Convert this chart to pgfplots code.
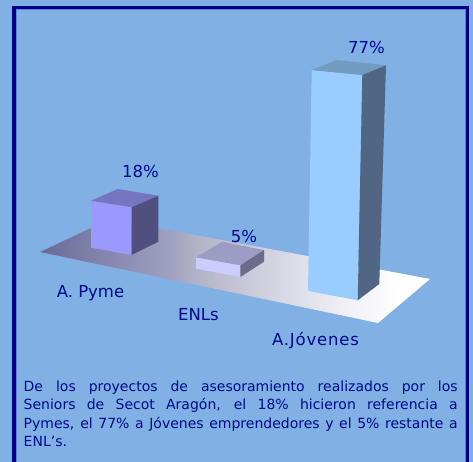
\documentclass[border=0pt]{standalone}
\usepackage{pgfplots}
\pgfplotsset{compat=1.18}
\usepackage{fontspec}
\setmainfont{DejaVu Sans}
\definecolor{bg}{HTML}{80B0E4}
\definecolor{navy}{HTML}{00008B}
\definecolor{txt}{HTML}{000A8A}
\pgfdeclarehorizontalshading{floorS}{100bp}{
  rgb(0bp)=(0.416,0.416,0.604);
  rgb(25bp)=(0.416,0.416,0.604);
  rgb(41.5bp)=(0.627,0.627,0.753);
  rgb(45.5bp)=(0.706,0.706,0.784);
  rgb(56bp)=(0.847,0.847,0.894);
  rgb(63.5bp)=(0.933,0.933,0.957);
  rgb(71bp)=(1,1,1);
  rgb(100bp)=(1,1,1)}
\begin{document}
\begin{tikzpicture}[x=1pt,y=1pt]
\begin{axis}[
  scale only axis, width=473pt, height=462pt,
  xmin=0, xmax=473, ymin=0, ymax=462, y dir=reverse,
  axis lines=none, axis background/.style={fill=bg},
  clip=true
]
% frame
\addplot[draw=navy, line width=3.2pt, forget plot] coordinates {(14,7.5) (467.5,7.5) (467.5,480) (14,480)} -- cycle;
\addplot[draw=bg!75!navy, line width=0.8pt, forget plot] coordinates {(16,9.6) (465.4,9.6) (465.4,480) (16,480)} -- cycle;
% floor
\addplot[draw=none, shading=floorS, forget plot]
  coordinates {(40,252) (110,219) (430,279) (378,323)} -- cycle;
% A. Pyme 18%
\addplot[draw=none, fill={rgb,255:red,153;green,153;blue,255}] coordinates {(91,200.7) (131.7,207.3) (131.7,255) (91,247.7)} -- cycle;
\addplot[draw=none, fill={rgb,255:red,118;green,118;blue,192}] coordinates {(91,200.7) (117.7,189) (158.3,195.7) (131.7,207.3)} -- cycle;
\addplot[draw=none, fill={rgb,255:red,79;green,79;blue,128}] coordinates {(131.7,207.3) (158.3,195.7) (158.3,241.7) (131.7,255)} -- cycle;
% ENLs 5%
\addplot[draw=none, fill={rgb,255:red,204;green,204;blue,255}] coordinates {(196,257.3) (240.3,265.3) (240.3,277) (196,268.7)} -- cycle;
\addplot[draw=none, fill={rgb,255:red,156;green,156;blue,196}] coordinates {(196,257.3) (222,241.7) (264,250) (240.3,265.3)} -- cycle;
\addplot[draw=none, fill={rgb,255:red,108;green,108;blue,138}] coordinates {(240.3,265.3) (264,250) (264,261.7) (240.3,277)} -- cycle;
% A.Jovenes 77%
\addplot[draw=none, fill={rgb,255:red,153;green,204;blue,255}] coordinates {(311.7,70) (362.3,75) (357.7,300.3) (308,291)} -- cycle;
\addplot[draw=none, fill={rgb,255:red,114;green,156;blue,192}] coordinates {(311.7,70) (336.7,60) (386,65.3) (362.3,75)} -- cycle;
\addplot[draw=none, fill={rgb,255:red,81;green,102;blue,130}] coordinates {(362.3,75) (386,65.3) (379.3,284) (357.7,300.3)} -- cycle;
% labels
\node[text=txt, font=\fontsize{16.5}{18}\selectfont] at (axis cs:366.5,47) {77\%};
\node[text=txt, font=\fontsize{16.5}{18}\selectfont] at (axis cs:140.5,171) {18\%};
\node[text=txt, font=\fontsize{16.5}{18}\selectfont] at (axis cs:244,236.5) {5\%};
\node[text=txt, font=\fontsize{16.5}{18}\selectfont] at (axis cs:90.5,293.5) {A. Pyme};
\node[text=txt, font=\fontsize{16.5}{18}\selectfont] at (axis cs:198.5,315) {ENLs};
\node[text=txt, font=\fontsize{16.5}{18}\selectfont\addfontfeature{LetterSpace=5}] at (axis cs:315.5,341) {A.Jóvenes};
\node[text=txt, anchor=north west, align=left, inner sep=0pt,
  font=\fontsize{14}{18.5}\selectfont] at (axis cs:23.5,380.5)
  {\makebox[434pt][s]{De los proyectos de asesoramiento realizados por los}\\
   \makebox[434pt][s]{Seniors de Secot Aragón, el 18\% hicieron referencia a}\\
   \makebox[434pt][s]{Pymes, el 77\% a Jóvenes emprendedores y el 5\% restante a}\\
   ENL’s.};
\end{axis}
\end{tikzpicture}
\end{document}
